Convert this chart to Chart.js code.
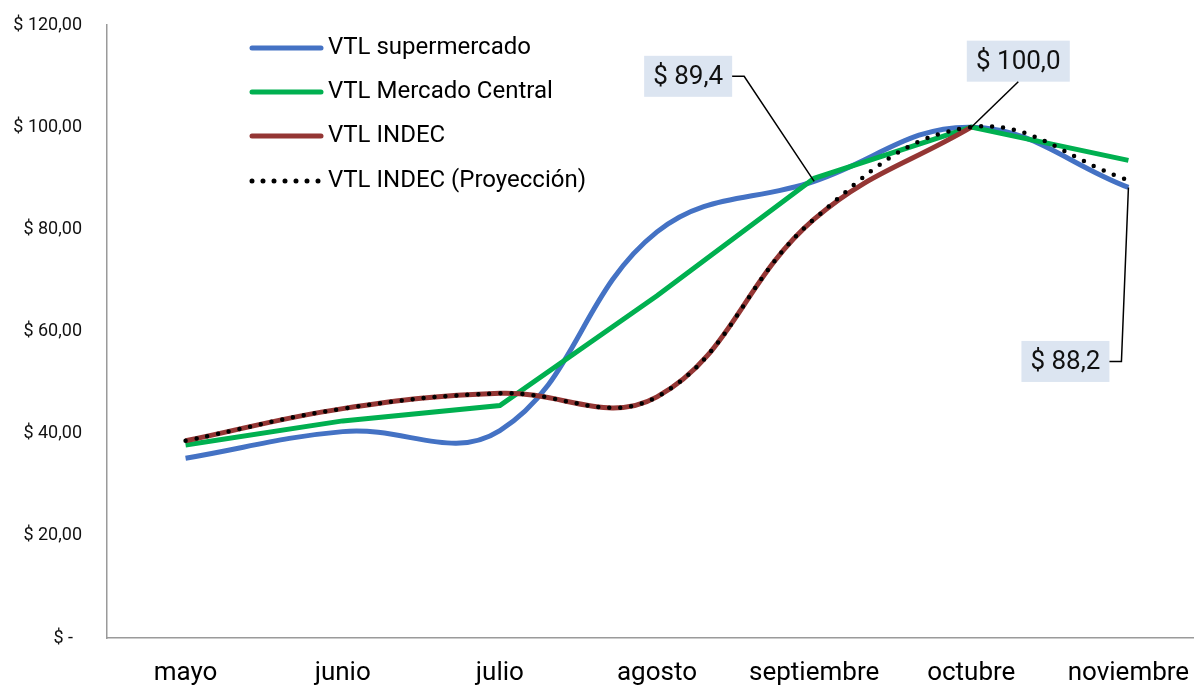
<!DOCTYPE html>
<html>
<head>
<meta charset="utf-8">
<script src="https://cdn.jsdelivr.net/npm/chart.js@4"></script>
<style>
  body { margin: 0; background: #fff; overflow: hidden; }
  /* el area de trazado sigue un poco mas alla del borde derecho de la ventana */
  #wrap { width: 1207px; height: 686px; position: relative; }
</style>
</head>
<body>
<div id="wrap"><canvas id="vtlChart"></canvas></div>
<script>
const meses = ['mayo', 'junio', 'julio', 'agosto', 'septiembre', 'octubre', 'noviembre'];
const supermercado = [35.2, 40.4, 40.6, 79.5, 89.4, 100.0, 88.2];
const mercadoCentral = [37.8, 42.5, 45.5, 67.0, 90.0, 100.0, 93.5];
const indec = [38.6, 44.9, 47.9, 47.2, 82.0, 100.0, null];
const indecProyeccion = [38.6, 44.9, 47.9, 47.2, 82.0, 100.0, 89.6];
const yTicks = [0, 20, 40, 60, 80, 100, 120];

const FONT = 'Roboto';

function pesos(v, dec) {
    return '$ ' + v.toFixed(dec).replace('.', ',');
}

// leyenda dentro del area del grafico
const legendItems = [
    { text: 'VTL supermercado', color: '#4472C4', dots: false },
    { text: 'VTL Mercado Central', color: '#00B050', dots: false },
    { text: 'VTL INDEC', color: '#943634', dots: false },
    { text: 'VTL INDEC (Proyección)', color: '#000000', dots: true }
];

const legendPlugin = {
    id: 'legendBox',
    afterDraw(chart) {
        const ctx = chart.ctx;
        const rowsY = [48, 92, 136, 181];
        ctx.save();
        legendItems.forEach((item, i) => {
            const y = rowsY[i];
            ctx.beginPath();
            ctx.strokeStyle = item.color;
            ctx.lineWidth = 5;
            ctx.lineCap = 'round';
            ctx.setLineDash(item.dots ? [0, 11] : []);
            ctx.moveTo(252, y);
            ctx.lineTo(321, y);
            ctx.stroke();
            ctx.setLineDash([]);
            ctx.fillStyle = '#000';
            ctx.font = '24px ' + FONT;
            ctx.textAlign = 'left';
            ctx.textBaseline = 'middle';
            ctx.fillText(item.text, 328, y);
        });
        ctx.restore();
    }
};

// etiquetas de valor con linea guia (ds: 3 = supermercado, 1 = INDEC)
const callouts = [
    { ds: 3, idx: 4, dx: -126, dy: -105, w: 88, side: 'right' },
    { ds: 1, idx: 5, dx: 47, dy: -66, w: 103, side: 'bottom' },
    { ds: 3, idx: 6, dx: -63, dy: 174, w: 88, side: 'right' }
];

const calloutPlugin = {
    id: 'callouts',
    afterDatasetsDraw(chart) {
        const ctx = chart.ctx;
        ctx.save();
        callouts.forEach(c => {
            const pt = chart.getDatasetMeta(c.ds).data[c.idx];
            const value = chart.data.datasets[c.ds].data[c.idx];
            const cx = pt.x + c.dx;
            const cy = pt.y + c.dy;
            const h = 41;
            ctx.fillStyle = '#DCE5F1';
            ctx.fillRect(cx - c.w / 2, cy - h / 2, c.w, h);

            ctx.beginPath();
            ctx.strokeStyle = '#000';
            ctx.lineWidth = 1.5;
            if (c.side === 'right') {
                ctx.moveTo(cx + c.w / 2, cy);
                ctx.lineTo(cx + c.w / 2 + 12, cy);
                ctx.lineTo(pt.x, pt.y);
            } else {
                ctx.moveTo(cx, cy + h / 2);
                ctx.lineTo(pt.x, pt.y);
            }
            ctx.stroke();

            ctx.fillStyle = '#111';
            ctx.font = '26px ' + FONT;
            ctx.textAlign = 'center';
            ctx.textBaseline = 'middle';
            ctx.fillText(pesos(value, 1), cx, cy + 1);
        });
        ctx.restore();
    }
};

const ctx = document.getElementById('vtlChart').getContext('2d');

new Chart(ctx, {
    type: 'line',
    data: {
        labels: meses,
        datasets: [{
            label: 'VTL INDEC (Proyección)',
            data: indecProyeccion,
            borderColor: '#000',
            borderWidth: 4.5,
            borderDash: [0, 11],
            borderCapStyle: 'round',
            tension: 0.4,
            pointRadius: 0
        }, {
            label: 'VTL INDEC',
            data: indec,
            borderColor: '#943634',
            borderWidth: 5,
            tension: 0.4,
            pointRadius: 0
        }, {
            label: 'VTL Mercado Central',
            data: mercadoCentral,
            borderColor: '#00B050',
            borderWidth: 5,
            tension: 0,
            pointRadius: 0
        }, {
            label: 'VTL supermercado',
            data: supermercado,
            borderColor: '#4472C4',
            borderWidth: 5,
            tension: 0.4,
            pointRadius: 0
        }]
    },
    options: {
        responsive: true,
        maintainAspectRatio: false,
        animation: false,
        layout: { padding: { top: 25, right: 0, left: 0, bottom: 0 } },
        plugins: {
            legend: { display: false },
            tooltip: { enabled: false }
        },
        scales: {
            x: {
                offset: true,
                grid: { display: false, drawTicks: false },
                border: { display: true, color: '#9A9A9A', width: 1.5 },
                ticks: {
                    color: '#000',
                    font: { family: FONT, size: 26 },
                    padding: 20,
                    maxRotation: 0,
                    autoSkip: false
                },
                afterFit(scale) {
                    scale.height = 48;
                    scale.paddingLeft = 0;
                    scale.paddingRight = 0;
                }
            },
            y: {
                min: 0,
                max: 120,
                grid: { display: false, drawTicks: false },
                border: { display: true, color: '#9A9A9A', width: 1.5 },
                afterBuildTicks(scale) {
                    scale.ticks = yTicks.map(v => ({ value: v }));
                },
                ticks: {
                    color: '#111',
                    font: { family: FONT, size: 18 },
                    padding: 25,
                    callback: v => v === 0 ? '$ -  ' : pesos(v, 2)
                },
                afterFit(scale) {
                    scale.width = 107;
                    scale.paddingTop = 0;
                    scale.paddingBottom = 0;
                }
            }
        }
    },
    plugins: [legendPlugin, calloutPlugin]
});
</script>
</body>
</html>
